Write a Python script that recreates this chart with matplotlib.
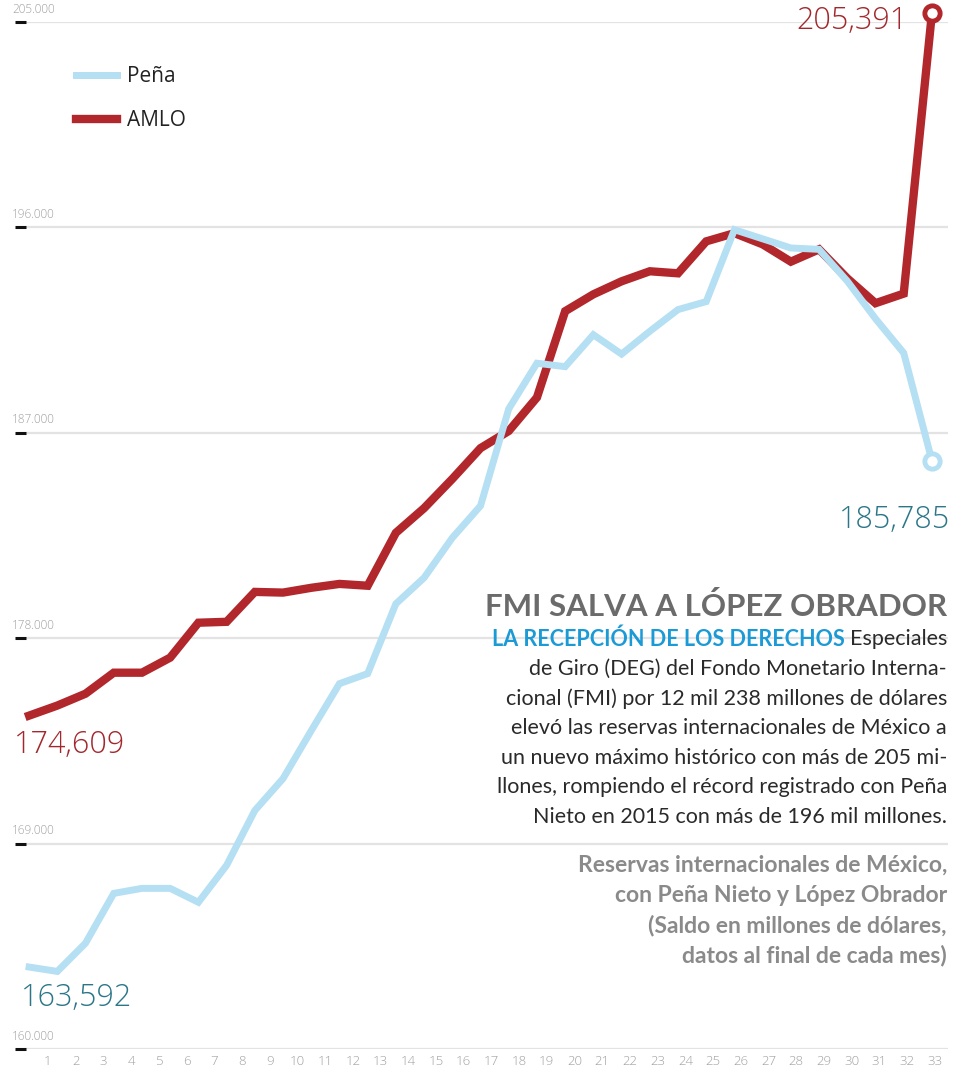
import matplotlib
matplotlib.use("Agg")
import matplotlib.pyplot as plt
import matplotlib.transforms as mtransforms
from matplotlib import font_manager
import numpy as np

# === Data (saldo en millones de dólares, fin de mes) ===
months = list(range(1, 34))
pena = [163592, 163400, 164640, 166820, 167040, 167040, 166430, 168050, 170450, 171850,
        173950, 176010, 176450, 179510, 180650, 182400, 183800, 188050, 190050, 189900,
        191300, 190450, 191450, 192400, 192750, 195900, 195500, 195100, 195040, 193650,
        192000, 190500, 185785]
amlo = [174609, 175050, 175570, 176490, 176490, 177150, 178680, 178720, 180030, 180000,
        180210, 180380, 180300, 182620, 183700, 184980, 186330, 187080, 188550, 192330,
        193070, 193640, 194080, 193990, 195390, 195750, 195260, 194500, 195040, 193770,
        192680, 193100, 205391]
y_ticks = [160000, 169000, 178000, 187000, 196000, 205000]
x_labels = [str(m) for m in months]

RED = "#b1272b"
RED_TXT = "#a3282d"
BLUE = "#b5dff2"
TEAL_TXT = "#2b7688"
GRID = "#e3e3e3"
FONT = "Open Sans"

names = {f.name for f in font_manager.fontManager.ttflist}
NARROW = "Liberation Sans Narrow" if "Liberation Sans Narrow" in names else "Lato"

plt.rcParams["font.family"] = [FONT, "DejaVu Sans"]

fig = plt.figure(figsize=(9.54, 10.7), dpi=100)
ax = fig.add_axes([15 / 954, 0.0196, 933 / 954, 0.9598])
ax.set_xlim(0.5, 33.57)
ax.set_ylim(160000, 205000)

for s in ax.spines.values():
    s.set_visible(False)

# gridlines + tick dashes
for v in y_ticks:
    ax.axhline(v, xmin=12 / 933, xmax=1, color=GRID, lw=1.6, zorder=0)
ax.set_yticks(y_ticks)
ax.tick_params(axis="y", direction="in", length=8, width=2.2, color="#111111",
               labelleft=False)
trans = mtransforms.blended_transform_factory(ax.transAxes, ax.transData)
for v in y_ticks:
    ax.text(-3 / 933, v + 280, f"{v:,}".replace(",", "."), transform=trans,
            ha="left", va="bottom", fontsize=8.5, color="#a0a0a0", fontweight="light")

# x labels (shifted as in the original graphic)
ax.set_xticks(np.linspace(1.67, 33.1, 33))
ax.set_xticklabels(x_labels, fontsize=9.5, color="#a0a0a0", fontweight="light")
ax.tick_params(axis="x", length=0, pad=4)

# series
ax.plot(months, amlo, color=RED, lw=6, solid_joinstyle="miter", label="AMLO", zorder=3)
ax.plot(months, pena, color=BLUE, lw=5, solid_joinstyle="miter", label="Peña", zorder=4)
ax.plot(months[-1], amlo[-1], "o", ms=11, mfc="white", mec=RED, mew=3.5, zorder=6, clip_on=False)
ax.plot(months[-1], pena[-1], "o", ms=11, mfc="white", mec=BLUE, mew=3.5, zorder=6, clip_on=False)

# value labels
ax.text(months[-1] - 0.85, amlo[-1] - 340, f"{amlo[-1]:,}", ha="right", va="center",
        fontsize=22, color=RED_TXT, fontweight="light")
ax.text(months[-1] + 0.65, pena[-1] - 2620, f"{pena[-1]:,}", ha="right", va="center",
        fontsize=22, color=TEAL_TXT, fontweight="light")
ax.text(0.45, amlo[0] - 1300, f"{amlo[0]:,}", ha="left", va="center",
        fontsize=22, color=RED_TXT, fontweight="light")
ax.text(0.7, pena[0] - 1360, f"{pena[0]:,}", ha="left", va="center",
        fontsize=22, color=TEAL_TXT, fontweight="light")

# legend
handles, labels = ax.get_legend_handles_labels()
leg = ax.legend(handles[::-1], labels[::-1], loc="upper left", bbox_to_anchor=(0.045, 0.975),
                frameon=False, fontsize=15, handlelength=2.0, handletextpad=0.45,
                labelspacing=1.1)
for t in leg.get_texts():
    t.set_color("#222222")

# text block
xr = 947 / 954
fig.text(xr, 1 - 607 / 1070, "FMI SALVA A LÓPEZ OBRADOR", ha="right", va="center",
         fontsize=27 if NARROW != "Lato" else 22.5, fontweight="bold", color="#6b6b6b",
         family=[NARROW, "DejaVu Sans"])
first = fig.text(xr, 1 - 639 / 1070, "Especiales", ha="right", va="center",
                 fontsize=15.5, color="#2a2a2a", family=["Lato", "DejaVu Sans"])
ax.annotate("LA RECEPCIÓN DE LOS DERECHOS ", xy=(0, 0.5), xycoords=first,
            ha="right", va="center", fontsize=15.5 if NARROW == "Lato" else 18,
            fontweight="bold", color="#1b9ad6",
            family=[NARROW, "DejaVu Sans"], annotation_clip=False)
body = ["de Giro (DEG) del Fondo Monetario Interna-",
        "cional (FMI) por 12 mil 238 millones de dólares",
        "elevó las reservas internacionales de México a",
        "un nuevo máximo histórico con más de 205 mi-",
        "llones, rompiendo el récord registrado con Peña",
        "Nieto en 2015 con más de 196 mil millones."]
for i, line in enumerate(body):
    fig.text(xr, 1 - (669 + i * 29.6) / 1070, line, ha="right", va="center",
             fontsize=15.5, color="#2a2a2a", family=["Lato", "DejaVu Sans"])
sub = ["Reservas internacionales de México,",
       "con Peña Nieto y López Obrador",
       "(Saldo en millones de dólares,",
       "datos al final de cada mes)"]
for i, line in enumerate(sub):
    fig.text(xr, 1 - (865 + i * 30) / 1070, line, ha="right", va="center",
             fontsize=16.5 if NARROW == "Lato" else 17.5, fontweight="bold", color="#8a8a8a",
             family=[NARROW, "DejaVu Sans"])

fig.savefig("out.png", dpi=100, facecolor="white")
